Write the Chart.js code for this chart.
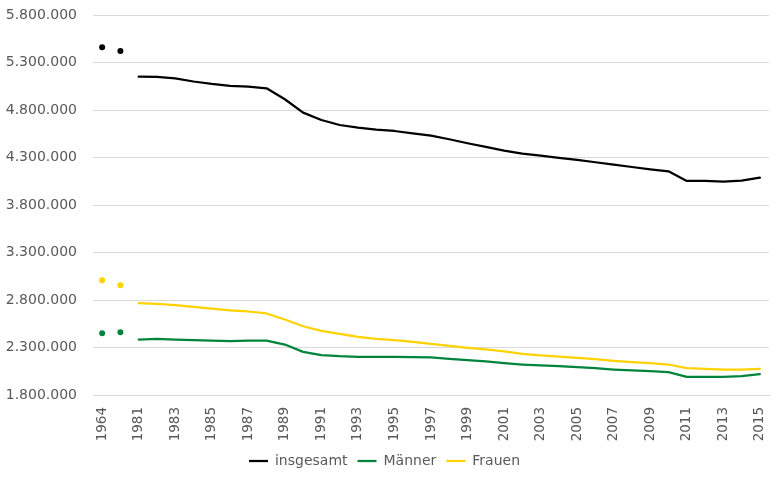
<!DOCTYPE html>
<html>
<head>
<meta charset="utf-8">
<script src="https://cdn.jsdelivr.net/npm/chart.js@4/dist/chart.umd.min.js"></script>
<style>
html,body{margin:0;padding:0;background:#fff;}
#wrap{width:780px;height:480px;position:relative;}
</style>
</head>
<body>
<div id="wrap"><canvas id="c"></canvas></div>
<script>
const categories = ["1964","1970","1981","1982","1983","1984","1985","1986","1987","1988","1989","1990","1991","1992","1993","1994","1995","1996","1997","1998","1999","2000","2001","2002","2003","2004","2005","2006","2007","2008","2009","2010","2011","2012","2013","2014","2015"];
const insgesamt = [5460000,5421000,5151000,5148000,5134000,5100000,5074000,5053000,5046000,5028000,4913000,4772000,4695000,4642000,4614000,4593000,4579000,4555000,4530000,4492000,4450000,4411000,4372000,4340000,4319000,4295000,4274000,4250000,4224000,4200000,4176000,4155000,4053000,4053000,4046000,4056000,4087000];
const maenner = [2450000,2461000,2384000,2390000,2384000,2378000,2373000,2366000,2373000,2373000,2331000,2254000,2219000,2208000,2202000,2202000,2202000,2198000,2195000,2181000,2167000,2153000,2135000,2121000,2111000,2104000,2093000,2082000,2068000,2058000,2051000,2040000,1991000,1991000,1991000,1998000,2019000];
const frauen = [3008000,2956000,2766000,2760000,2745000,2728000,2710000,2692000,2679000,2658000,2595000,2524000,2475000,2443000,2412000,2390000,2377000,2359000,2338000,2317000,2296000,2279000,2258000,2233000,2216000,2205000,2191000,2177000,2159000,2145000,2135000,2121000,2082000,2075000,2068000,2068000,2075000];
const yMin = 1800000, yMax = 5800000, yStep = 500000;
const colors = ['#000000', '#00843D', '#FFD200'];

const radii = categories.map((c,i)=> i<2 ? 3 : 0);
function ds(label, data, color){
  return {
    label, data,
    borderColor: color, backgroundColor: color,
    borderWidth: 2.25,
    pointRadius: radii, pointHoverRadius: radii,
    pointBackgroundColor: color, pointBorderColor: color, pointBorderWidth: 0,
    tension: 0, borderJoinStyle: 'round', borderCapStyle: 'round',
    segment: { borderColor: ctx => ctx.p0DataIndex < 2 ? 'rgba(0,0,0,0)' : color }
  };
}
const fmt = v => String(v).replace(/\B(?=(\d{3})+(?!\d))/g, '.');

new Chart(document.getElementById('c'), {
  type: 'line',
  data: {
    labels: categories,
    datasets: [ds('insgesamt', insgesamt, colors[0]), ds('Männer', maenner, colors[1]), ds('Frauen', frauen, colors[2])]
  },
  options: {
    responsive: true, maintainAspectRatio: false, animation: false,
    layout: { padding: { left: 0, right: 11, top: 0, bottom: 2 } },
    plugins: {
      legend: {
        position: 'bottom',
        labels: {
          usePointStyle: true, pointStyle: 'line', pointStyleWidth: 19, boxHeight: 2,
          color: '#595959', font: { family: 'DejaVu Sans', size: 14 }, padding: 10,
          generateLabels: function(chart){
            return chart.data.datasets.map((d,i)=>({
              text: d.label, fillStyle: colors[i], strokeStyle: colors[i], lineWidth: 2.25,
              pointStyle: 'line', hidden: false, datasetIndex: i, fontColor: '#595959'
            }));
          }
        }
      },
      tooltip: { enabled: false }
    },
    scales: {
      x: {
        offset: true,
        grid: { display: false, drawTicks: false },
        border: { display: true, color: '#d9d9d9' },
        afterFit: s => { s.height = 49; s.paddingLeft = 0; s.paddingRight = 0; },
        ticks: {
          autoSkip: false, maxRotation: 90, minRotation: 90, padding: 12,
          color: '#595959', font: { family: 'DejaVu Sans', size: 13.5 },
          callback: function(v, i){ return i % 2 === 0 ? categories[i] : ''; }
        }
      },
      y: {
        min: yMin, max: yMax,
        grid: { color: '#d9d9d9', drawTicks: false },
        border: { display: false },
        afterFit: s => { s.width = 93; s.paddingTop = 15; s.paddingBottom = 0; },
        ticks: {
          stepSize: yStep, padding: 16,
          color: '#595959', font: { family: 'DejaVu Sans', size: 14 },
          callback: v => fmt(v)
        }
      }
    }
  }
});
</script>
</body>
</html>
